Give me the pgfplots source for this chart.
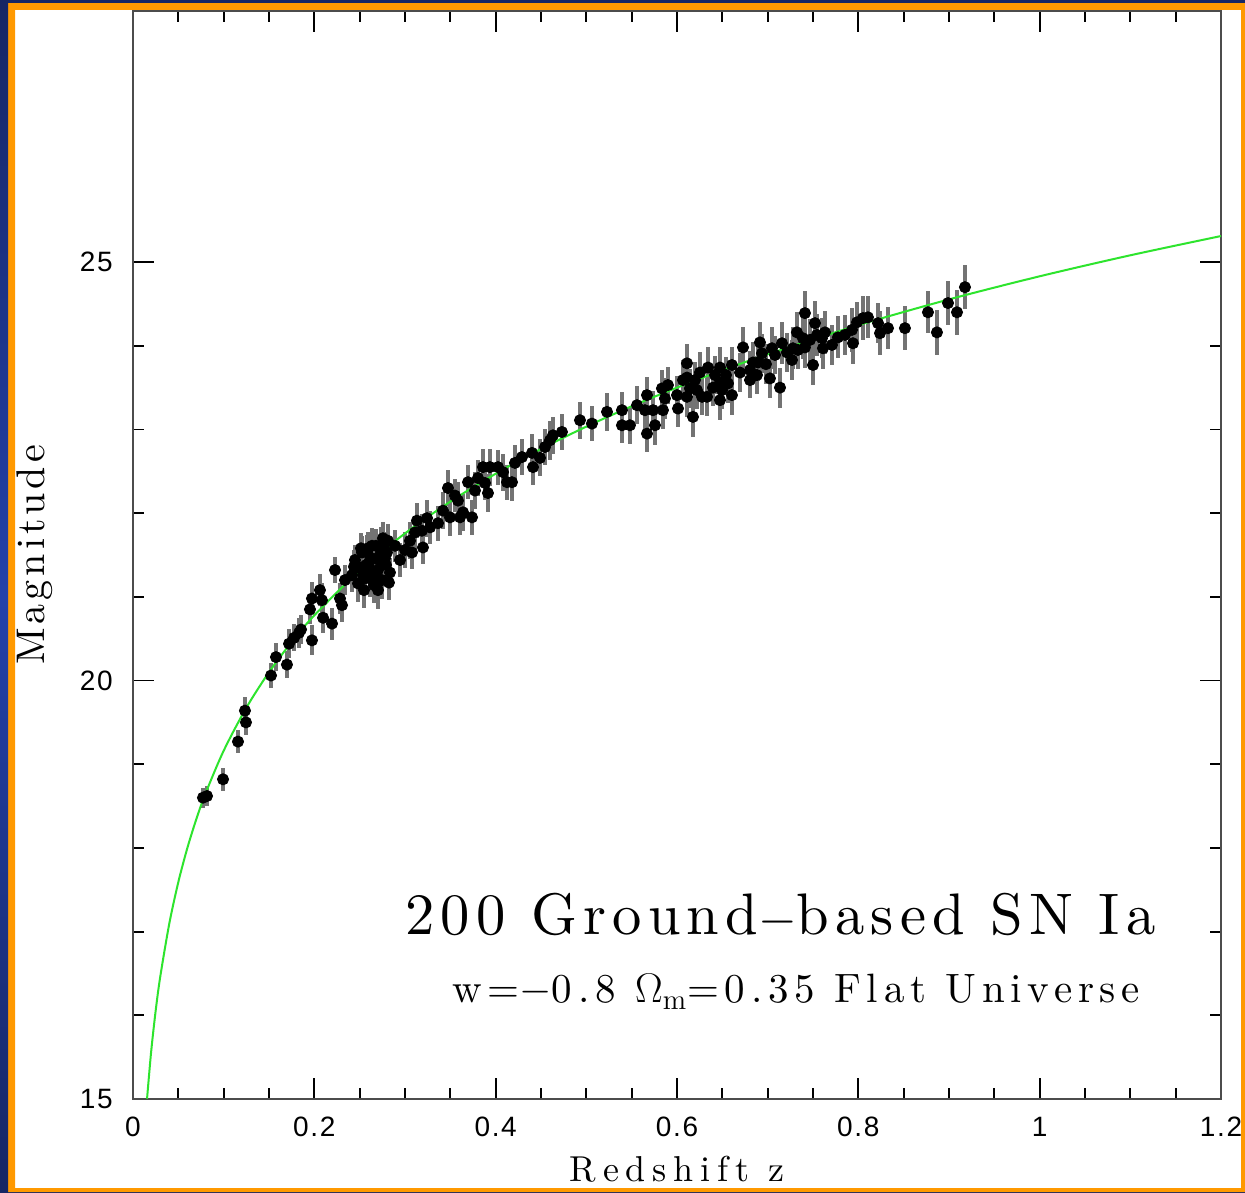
\documentclass[border=0pt]{standalone}
\usepackage{fontspec}
\usepackage{pgfplots}
\pgfplotsset{compat=1.18}
\usepackage{pgfplotstable}
\newfontfamily\ticksf{Liberation Sans}[LetterSpace=6]
\newfontfamily\annA{lmroman10-regular.otf}[LetterSpace=10.5]
\newfontfamily\annB{lmroman10-regular.otf}[LetterSpace=14]
\newfontfamily\lblY{lmroman10-regular.otf}[LetterSpace=10]
\newfontfamily\lblX{lmroman10-regular.otf}[LetterSpace=19]
\definecolor{sngreen}{RGB}{45,228,45}
\definecolor{frameorange}{RGB}{255,153,0}
\definecolor{navy}{RGB}{22,38,100}
\definecolor{royal}{RGB}{35,65,170}

\pgfplotstableread{
z m
0.0155 15.003
0.02 15.563
0.025 16.054
0.03 16.457
0.04 17.094
0.05 17.592
0.06 18.001
0.07 18.349
0.08 18.651
0.1 19.161
0.125 19.675
0.15 20.099
0.175 20.461
0.2 20.779
0.25 21.314
0.3 21.758
0.35 22.138
0.4 22.471
0.45 22.767
0.5 23.034
0.55 23.277
0.6 23.500
0.65 23.706
0.7 23.898
0.8 24.246
0.9 24.554
1.0 24.830
1.1 25.081
1.2 25.311
}\modelcurve

\pgfplotstableread{
z m e
0.0772 18.60 0.12
0.0816 18.62 0.12
0.0993 18.82 0.14
0.1158 19.27 0.14
0.1246 19.50 0.15
0.1235 19.64 0.16
0.1522 20.06 0.15
0.1577 20.28 0.17
0.1698 20.19 0.16
0.1721 20.44 0.17
0.1776 20.51 0.16
0.1831 20.57 0.18
0.1853 20.61 0.17
0.1974 20.48 0.18
0.1952 20.85 0.18
0.1974 20.98 0.20
0.2062 21.08 0.19
0.2084 20.96 0.20
0.2096 20.75 0.18
0.2195 20.68 0.19
0.2305 20.90 0.20
0.2283 20.98 0.18
0.2228 21.32 0.16
0.2338 21.20 0.18
0.2415 21.26 0.20
0.2448 21.44 0.18
0.2482 21.16 0.22
0.2504 21.34 0.19
0.2526 21.53 0.20
0.2548 21.08 0.21
0.2570 21.38 0.18
0.2592 21.58 0.20
0.2614 21.22 0.22
0.2636 21.46 0.19
0.2658 21.14 0.21
0.2680 21.61 0.20
0.2702 21.32 0.18
0.2724 21.50 0.20
0.2746 21.20 0.22
0.2768 21.58 0.19
0.2790 21.38 0.21
0.2812 21.67 0.20
0.2834 21.29 0.18
0.2482 21.36 0.20
0.2559 21.22 0.19
0.2636 21.61 0.21
0.2702 21.08 0.22
0.2779 21.46 0.20
0.2515 21.58 0.18
0.2603 21.41 0.20
0.2669 21.26 0.21
0.2757 21.70 0.19
0.2437 21.36 0.20
0.2537 21.26 0.18
0.2581 21.53 0.21
0.2625 21.32 0.20
0.2713 21.44 0.19
0.2735 21.61 0.22
0.2801 21.53 0.20
0.2823 21.17 0.21
0.2945 21.44 0.20
0.3055 21.67 0.22
0.3077 21.53 0.20
0.3132 21.91 0.21
0.3187 21.79 0.20
0.3243 21.94 0.22
0.3276 21.83 0.20
0.3364 21.88 0.21
0.3198 21.59 0.20
0.2890 21.61 0.19
0.3000 21.56 0.21
0.3110 21.77 0.20
0.3419 22.03 0.22
0.3474 22.30 0.21
0.3496 21.95 0.22
0.3551 22.21 0.20
0.3584 22.15 0.22
0.3607 21.95 0.21
0.3640 22.01 0.22
0.3739 21.95 0.21
0.3695 22.37 0.20
0.3772 22.27 0.22
0.3805 22.42 0.21
0.3860 22.55 0.22
0.3882 22.36 0.20
0.3937 22.55 0.22
0.3915 22.24 0.23
0.4026 22.55 0.21
0.4081 22.49 0.22
0.4125 22.37 0.21
0.4180 22.37 0.23
0.4213 22.60 0.22
0.4290 22.67 0.21
0.4401 22.72 0.22
0.4412 22.55 0.21
0.4489 22.66 0.22
0.4544 22.79 0.21
0.4599 22.87 0.23
0.4632 22.93 0.22
0.4731 22.97 0.21
0.4930 23.11 0.22
0.5062 23.07 0.21
0.5228 23.21 0.23
0.5393 23.23 0.22
0.5393 23.05 0.21
0.5481 23.05 0.22
0.5559 23.29 0.23
0.5669 23.41 0.22
0.5647 23.23 0.24
0.5669 22.95 0.22
0.5735 23.23 0.23
0.5757 23.05 0.24
0.5834 23.49 0.22
0.5845 23.23 0.23
0.5867 23.37 0.24
0.5900 23.53 0.22
0.6000 23.41 0.23
0.6011 23.25 0.22
0.6066 23.59 0.24
0.6110 23.79 0.23
0.6110 23.62 0.22
0.6110 23.39 0.24
0.6143 23.49 0.23
0.6176 23.15 0.24
0.6198 23.59 0.22
0.6220 23.47 0.23
0.6253 23.68 0.24
0.6276 23.39 0.22
0.6331 23.39 0.23
0.6342 23.74 0.24
0.6397 23.50 0.22
0.6419 23.65 0.23
0.6474 23.74 0.24
0.6474 23.56 0.22
0.6496 23.47 0.23
0.6474 23.35 0.24
0.6540 23.65 0.22
0.6562 23.55 0.23
0.6606 23.41 0.24
0.6606 23.77 0.22
0.6695 23.68 0.23
0.6728 23.98 0.24
0.6805 23.71 0.23
0.6805 23.59 0.22
0.6838 23.80 0.24
0.6882 23.65 0.23
0.6893 23.80 0.22
0.6915 24.04 0.24
0.6937 23.91 0.23
0.6981 23.78 0.24
0.7025 23.61 0.23
0.7048 23.97 0.25
0.7081 23.89 0.23
0.7136 23.50 0.24
0.7158 24.03 0.25
0.7213 23.92 0.23
0.7268 23.83 0.24
0.7279 23.97 0.25
0.7323 24.16 0.24
0.7334 23.95 0.23
0.7389 24.09 0.25
0.7411 24.39 0.26
0.7411 23.98 0.24
0.7467 24.07 0.25
0.7500 23.77 0.24
0.7522 24.27 0.26
0.7544 24.13 0.25
0.7599 24.09 0.24
0.7610 23.97 0.25
0.7632 24.16 0.26
0.7709 24.01 0.24
0.7775 24.10 0.25
0.7853 24.13 0.24
0.7930 24.19 0.26
0.7941 24.03 0.25
0.7985 24.28 0.24
0.8051 24.33 0.26
0.8106 24.34 0.25
0.8217 24.27 0.24
0.8239 24.15 0.26
0.8327 24.21 0.25
0.8514 24.21 0.26
0.8768 24.40 0.25
0.8867 24.16 0.27
0.8989 24.51 0.26
0.9088 24.40 0.27
0.9176 24.70 0.26
}\sndata

\begin{document}
\begin{tikzpicture}
% background: blue slide, orange frame, white panel
\shade[top color=navy, bottom color=navy, middle color=royal] (0pt,0pt) rectangle (622.5pt,596pt);
\fill[frameorange] (4pt,0pt) rectangle (622.5pt,594.5pt);
\fill[white] (7.5pt,2pt) rectangle (620.5pt,591pt);

\begin{axis}[
  at={(66.5pt,46.5pt)}, anchor=south west,
  scale only axis, width=544pt, height=544pt,
  xmin=0, xmax=1.2, ymin=15, ymax=28,
  xtick={0,0.2,0.4,0.6,0.8,1,1.2},
  xticklabels={0,0.2,0.4,0.6,0.8,1,1.2},
  minor x tick num=3,
  ytick={15,20,25},
  yticklabels={15,20,25},
  minor y tick num=4,
  tick align=inside,
  major tick length=10.5pt, minor tick length=5.5pt,
  every tick/.style={black, line width=0.9pt},
  axis line style={black!70, line width=1.1pt},
  xticklabel style={anchor=north, inner sep=0pt, yshift=-9pt,
     font=\ticksf\fontsize{14}{16}\selectfont},
  yticklabel style={anchor=east, inner sep=0pt, xshift=-10pt,
     font=\ticksf\fontsize{14}{16}\selectfont},
  xlabel={\lblX\fontsize{18}{20}\selectfont Redshift z},
  xlabel style={at={(axis description cs:0.5,-0.0754)}, anchor=base, inner sep=0pt},
  ylabel={\lblY\fontsize{20}{22}\selectfont Magnitude},
  ylabel style={at={(axis description cs:-0.0809,0.5)}, anchor=base, inner sep=0pt},
]
\addplot[only marks, mark=*, mark size=2.8pt, black,
  error bars/.cd, y dir=both, y explicit, error mark=none,
  error bar style={line width=1.6pt, black!55}]
  table[x=z, y=m, y error=e] {\sndata};
\addplot[sngreen, line width=1pt, smooth] table[x=z, y=m] {\modelcurve};
\end{axis}

\node[anchor=base west, inner sep=0pt] at (202.5pt,128.5pt)
  {\annA\fontsize{29.3}{32}\selectfont 200 Ground$-$based SN Ia};
\node[anchor=base west, inner sep=0pt] at (226pt,94.5pt)
  {\annB\fontsize{20.5}{24}\selectfont w=$-$0.8 $\Omega_{\mathrm{m}}$=0.35 Flat Universe};

% frame drawn over the panel edges
\fill[frameorange, even odd rule] (4pt,0pt) rectangle (622.5pt,594.5pt) (7.5pt,2pt) rectangle (620.5pt,591pt);
\shade[top color=navy, bottom color=navy, middle color=royal] (0pt,0pt) rectangle (4pt,596pt);
\fill[navy] (4pt,594.5pt) rectangle (622.5pt,596pt);
\pgfresetboundingbox
\useasboundingbox (0pt,0pt) rectangle (622.5pt,596pt);
\end{tikzpicture}
\end{document}
